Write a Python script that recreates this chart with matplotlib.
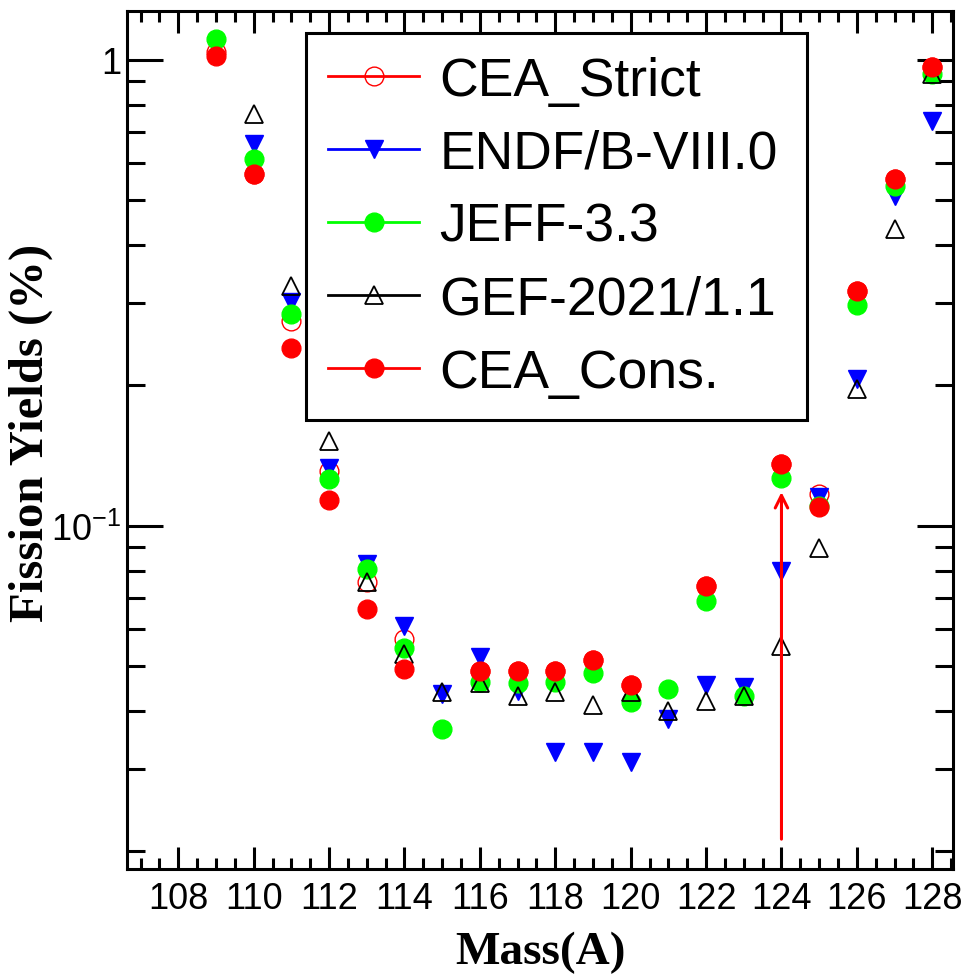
import matplotlib
matplotlib.use('Agg')
import matplotlib.pyplot as plt
import matplotlib.ticker as mt
import numpy as np

plt.rcParams['font.family'] = 'Liberation Sans'
plt.rcParams['mathtext.fontset'] = 'custom'
plt.rcParams['mathtext.rm'] = 'Liberation Sans'
plt.rcParams['mathtext.it'] = 'Liberation Sans:italic'

nan = np.nan
mass = np.arange(109, 129)
cea_strict = [1.04, 0.569, 0.275, 0.131, 0.0755, 0.0571, nan, 0.0488, 0.0488, 0.0486,
              0.0515, 0.0455, nan, 0.0742, nan, 0.1357, 0.117, 0.319, 0.555, 0.966]
endf = [nan, 0.660, 0.302, 0.133, 0.0828, 0.0609, 0.0434, 0.0523, 0.0442, 0.0327,
        0.0327, 0.0311, 0.0385, 0.0455, 0.0451, 0.0799, 0.115, 0.2066, 0.511, 0.740]
jeff = [1.109, 0.613, 0.285, 0.126, 0.0807, 0.0546, 0.0366, 0.0462, 0.046, 0.0462,
        0.0483, 0.0418, 0.0446, 0.0689, 0.0431, 0.1265, 0.110, 0.298, 0.537, 0.933]
gef = [nan, 0.766, 0.327, 0.152, 0.0757, 0.0530, 0.0440, 0.0460, 0.0431, 0.0440,
       0.0412, 0.0440, 0.0400, 0.0420, 0.0431, 0.0552, 0.0896, 0.1966, 0.434, 0.933]
cea_cons = [1.02, 0.569, 0.241, 0.1135, 0.0663, 0.0492, nan, 0.0488, 0.0488, 0.0486,
            0.0515, 0.0455, nan, 0.0742, nan, 0.1357, 0.1097, 0.319, 0.555, 0.966]

# arrow marking A=124
arrow_x = 124
arrow_from = 0.0212
arrow_to = 0.118

fig = plt.figure(figsize=(9.68, 9.79), dpi=100)
ax = fig.add_axes([127/968, 1-870/979, 826/968, 858/979])

ms = 13.5
ax.plot(mass, cea_strict, 'o', color='red', mfc='none', mec='red', mew=1.0, ms=ms,
        ls='-', lw=0, label='CEA_Strict')
ax.plot(mass, endf, 'v', color='blue', ms=ms, ls='-', lw=0, label='ENDF/B-VIII.0')
ax.plot(mass, jeff, 'o', color='#00ff00', ms=ms, ls='-', lw=0, label='JEFF-3.3')
ax.plot(mass, gef, '^', color='black', mfc='none', mew=1.3, ms=ms, ls='-', lw=0,
        label='GEF-2021/1.1')
ax.plot(mass, cea_cons, 'o', color='red', ms=ms, ls='-', lw=0, label='CEA_Cons.')

ax.annotate('', xy=(arrow_x, arrow_to), xytext=(arrow_x, arrow_from),
            arrowprops=dict(arrowstyle='->,head_length=0.9,head_width=0.45',
                            color='red', lw=2.2, shrinkA=0, shrinkB=0))

ax.set_yscale('log')
ax.set_xlim(106.64, 128.55)
ax.set_ylim(0.01829, 1.274)

ax.xaxis.set_major_locator(mt.MultipleLocator(2))
ax.xaxis.set_minor_locator(mt.MultipleLocator(0.5))
ax.yaxis.set_major_locator(mt.FixedLocator([0.1, 1]))
ax.yaxis.set_major_formatter(mt.FixedFormatter([r'$10^{-1}$', '1']))
ax.yaxis.set_minor_locator(mt.LogLocator(base=10, subs=np.arange(2, 10)))
ax.yaxis.set_minor_formatter(mt.NullFormatter())

ax.tick_params(which='both', direction='in', top=True, right=True, width=2.2,
               labelsize=26)
ax.xaxis.set_tick_params(which='major', length=16, pad=9)
ax.xaxis.set_tick_params(which='minor', length=8)
ax.yaxis.set_tick_params(which='major', length=26, pad=4)
ax.yaxis.set_tick_params(which='minor', length=13)
for s in ax.spines.values():
    s.set_linewidth(2.2)

ax.set_xlabel('Mass(A)', family='Liberation Serif', weight='bold', fontsize=34)
ax.set_ylabel('Fission Yields (%)', family='Liberation Serif', weight='bold', fontsize=35)
ax.xaxis.set_label_coords(0.5, -0.072)
ax.yaxis.set_label_coords(-0.09, 0.509)

leg = ax.legend(loc='upper left', bbox_to_anchor=(0.2167, 0.9639, 0.6066, 0.01),
                mode='expand', fontsize=38.5, frameon=True, fancybox=False,
                edgecolor='black', framealpha=1, borderpad=0.42, labelspacing=0.43,
                handlelength=1.7, handletextpad=0.38, borderaxespad=0)
leg.get_frame().set_linewidth(2.2)
for h in leg.get_lines():
    h.set_linewidth(2)

fig.savefig('out.png', dpi=100)
